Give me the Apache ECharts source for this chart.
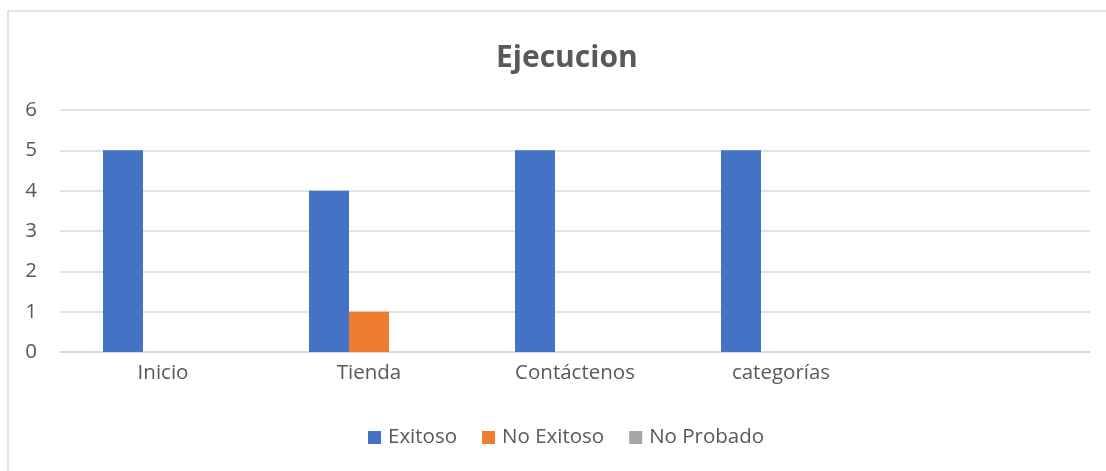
<!DOCTYPE html>
<html><head><meta charset="utf-8">
<script src="https://cdn.jsdelivr.net/npm/echarts@6/dist/echarts.min.js"></script>
<style>html,body{margin:0;padding:0;background:#fff}#c{width:1106px;height:471px}</style>
</head><body><div id="c"></div>
<script>
const categories = ['Inicio', 'Tienda', 'Contáctenos', 'categorías', ''];
const exitoso = [5, 4, 5, 5, null];
const noExitoso = [0, 1, 0, 0, null];
const noProbado = [0, 0, 0, 0, null];
const seriesNames = ['Exitoso', 'No Exitoso', 'No Probado'];
const colors = ['#4472C4', '#ED7D31', '#A5A5A5'];
const FONT = 'Open Sans';
const chart = echarts.init(document.getElementById('c'), null, {renderer: 'canvas'});
const mk = (name, data, i) => ({
  name, type: 'bar', data, barWidth: 40, barGap: '0%',
  itemStyle: {color: colors[i]}, animation: false
});
chart.setOption({
  animation: false,
  backgroundColor: '#fff',
  title: {text: 'Ejecucion', left: 491, top: 38,
    textStyle: {fontFamily: FONT, fontWeight: 'bold', fontSize: 30, color: '#595959'}},
  graphic: [{type: 'rect', shape: {x: 8, y: 11, width: 1200, height: 600},
    style: {fill: 'none', stroke: '#D9D9D9', lineWidth: 1.5}, silent: true}],
  legend: {bottom: 18, left: 363, itemWidth: 13, itemHeight: 13, itemGap: 25,
    icon: 'rect', textStyle: {fontFamily: FONT, fontSize: 20.5, color: '#595959', padding: [0, 0, 0, 2]},
    data: seriesNames},
  grid: {left: 60, right: 16, top: 110, bottom: 119, containLabel: false},
  xAxis: {type: 'category', data: categories,
    axisLine: {lineStyle: {color: '#D9D9D9', width: 1.5}}, axisTick: {show: false},
    axisLabel: {fontFamily: FONT, fontSize: 20.5, color: '#595959', margin: 11}},
  yAxis: {type: 'value', min: 0, max: 6, interval: 1,
    axisLine: {show: false}, axisTick: {show: false},
    splitLine: {lineStyle: {color: '#D9D9D9', width: 1.5}},
    axisLabel: {fontFamily: FONT, fontSize: 20.5, color: '#595959', margin: 23}},
  series: [mk(seriesNames[0], exitoso, 0), mk(seriesNames[1], noExitoso, 1), mk(seriesNames[2], noProbado, 2)]
});
</script></body></html>
